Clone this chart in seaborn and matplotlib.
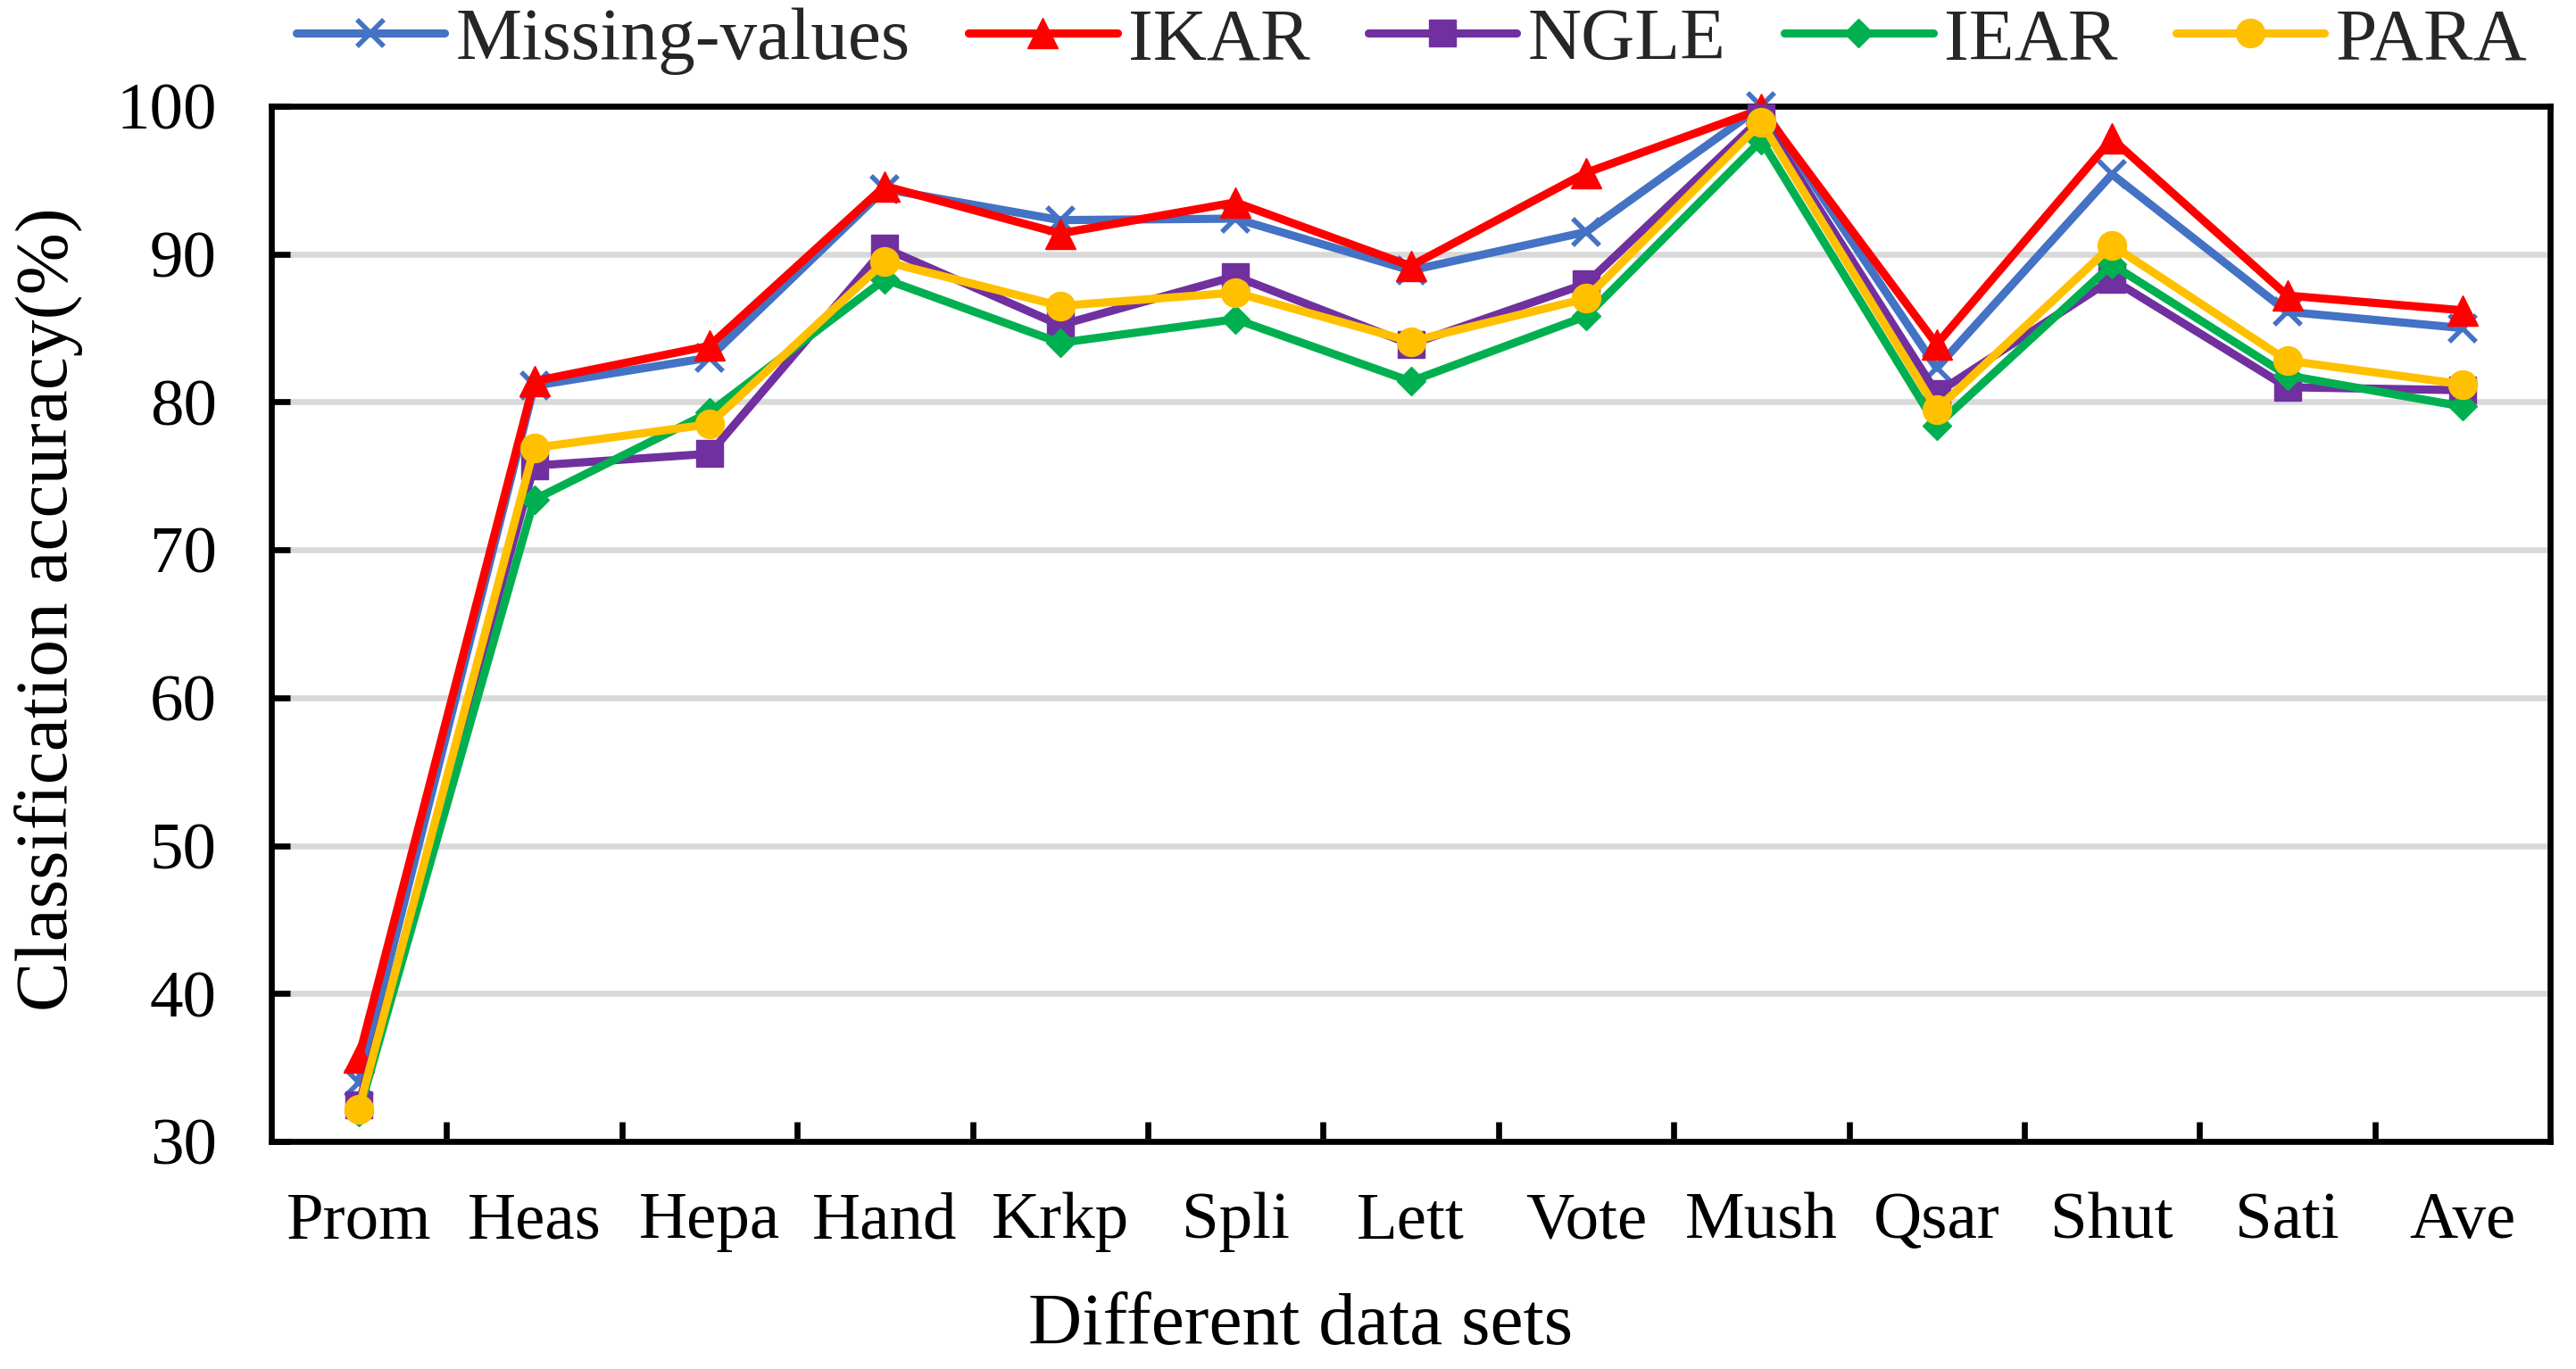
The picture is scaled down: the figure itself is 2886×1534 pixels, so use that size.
import numpy as np
import pandas as pd
import matplotlib
matplotlib.use("Agg")
import matplotlib.pyplot as plt
import seaborn as sns

datasets = ["Prom", "Heas", "Hepa", "Hand", "Krkp", "Spli", "Lett", "Vote",
            "Mush", "Qsar", "Shut", "Sati", "Ave"]
missing_values = [34.0, 81.1, 83.0, 94.4, 92.3, 92.4, 88.9, 91.5, 100.0, 82.3, 95.4, 86.1, 85.0]
ikar = [35.7, 81.4, 83.8, 94.6, 91.4, 93.5, 89.2, 95.5, 99.8, 83.9, 97.8, 87.2, 86.2]
ngle = [32.5, 75.7, 76.5, 90.4, 85.2, 88.5, 83.9, 88.0, 99.2, 80.6, 88.3, 81.0, 80.8]
iear = [32.0, 73.4, 79.3, 88.3, 84.0, 85.6, 81.4, 85.8, 97.7, 78.4, 89.3, 81.8, 79.7]
para = [32.2, 76.9, 78.5, 89.5, 86.5, 87.4, 84.1, 87.0, 98.9, 79.5, 90.6, 82.8, 81.2]

series_names = ["Missing-values", "IKAR", "NGLE", "IEAR", "PARA"]
series_values = [missing_values, ikar, ngle, iear, para]
colors = ["#4472C4", "#FF0000", "#7030A0", "#00B050", "#FFC000"]
markers = ["x", "^", "s", "D", "o"]
msizes = [22, 24, 22, 16.5, 23]

sns.set_theme(style="white")
plt.rcParams['font.family'] = ['Liberation Serif', 'DejaVu Serif']

fig = plt.figure(figsize=(28.86, 15.34), dpi=100)
ax = fig.add_axes([0.1053, 0.1662, 0.8847, 0.7562])

for i, (name, vals) in enumerate(zip(series_names, series_values)):
    df = pd.DataFrame({"dataset": datasets, "acc": vals})
    sns.lineplot(data=df, x="dataset", y="acc", ax=ax, sort=False, errorbar=None,
                 color=colors[i], marker=markers[i], markersize=msizes[i],
                 markeredgecolor=colors[i], markerfacecolor=colors[i],
                 markeredgewidth=4 if markers[i] == "x" else 1,
                 linewidth=6.6, label=name, clip_on=False, zorder=3 + i)

ax.set_xlim(-0.5, 12.5)
ax.set_ylim(30, 100)
ax.set_yticks(np.arange(30, 101, 10))
ax.set_xticks(np.arange(len(datasets)))
ax.set_xticklabels(datasets)
ax.set_xticks(np.arange(0.5, len(datasets) - 1, 1), minor=True)

ax.grid(axis="y", which="major", color="#D9D9D9", linewidth=4.8)
ax.grid(axis="x", visible=False)
ax.set_axisbelow(True)

for sp in ax.spines.values():
    sp.set_visible(True)
    sp.set_color("black")
    sp.set_linewidth(4.8)

ax.tick_params(axis="x", which="major", length=0, pad=41, labelsize=54, colors="black")
ax.tick_params(axis="x", which="minor", direction="in", length=16, width=4.8, color="black", bottom=True)
ax.tick_params(axis="y", which="major", direction="in", length=15, width=4.8, pad=44,
               labelsize=54, colors="black", left=True)

ax.set_xlabel("")
ax.set_ylabel("")
fig.text(55 / 2886, 0.555, "Classification accuracy(%)", rotation=90, ha="center",
         va="center", fontsize=60, color="black")
fig.text(0.505, 0.018, "Different data sets", ha="center", va="baseline",
         fontsize=60, color="black")

handles, labels = ax.get_legend_handles_labels()
if ax.get_legend() is not None:
    ax.get_legend().remove()
fig.legend(handles, labels, loc="center", bbox_to_anchor=(0.548, 0.97), ncol=5,
           frameon=False, fontsize=60, handlelength=2.0, handletextpad=0.15,
           columnspacing=0.78, borderpad=0)

fig.savefig("out.png", dpi=100, facecolor="white")
